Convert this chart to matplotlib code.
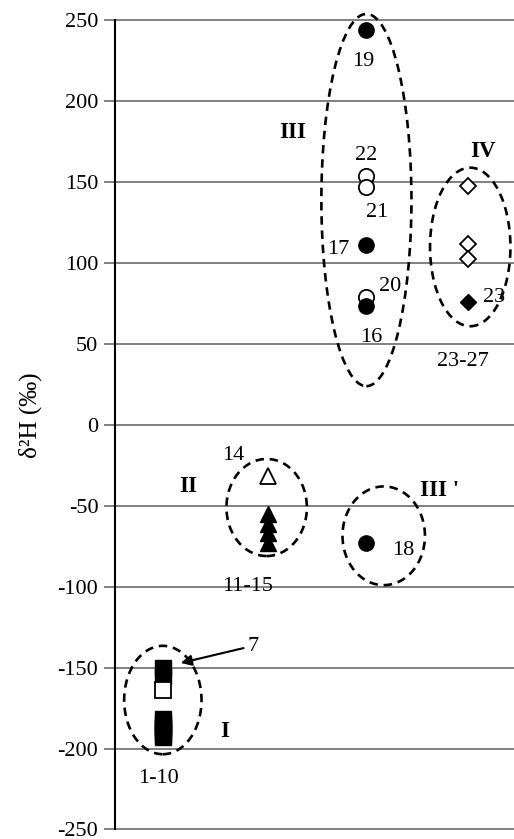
import matplotlib
matplotlib.use('Agg')
import matplotlib.pyplot as plt
from matplotlib.patches import Ellipse

plt.rcParams['font.family'] = ['Liberation Serif', 'DejaVu Serif']
plt.rcParams['axes.unicode_minus'] = False

# group I (samples 1-10)
grp1_x = 1
grp1_black = [-150, -155, -182, -184, -186, -187, -189, -191, -193]
grp1_white = [-163.5]

# group II (samples 11-15)
grp2_x = 2.03
grp2_black = [-55, -61, -67, -73]
grp2_white = [-31.5]

# group III / III' (samples 16-22)
grp3_x = 3
grp3_black = [244, 111, 73.6, -73]
grp3_white = [154, 147, 79]

# group IV (samples 23-27)
grp4_x = 4
grp4_white = [147.5, 112, 102.5]
grp4_black = [76]

# point labels: text, x, y
point_labels = [('19', 2.97, 224.7), ('22', 3.0, 166.7), ('21', 3.11, 131.5),
                ('17', 2.72, 108.6), ('20', 3.23, 85.8), ('16', 3.05, 54.3),
                ('23', 4.25, 79), ('23-27', 3.95, 39), ('14', 1.69, -19),
                ('11-15', 1.83, -100), ('18', 3.36, -77.8), ('7', 1.89, -137),
                ('1-10', 0.96, -218.5)]
group_labels = [('III', 2.28, 181), ('IV', 4.14, 169), ('II', 1.25, -38),
                ("III '", 3.72, -40.7), ('I', 1.61, -189.5)]

# ellipses: centre x, centre y, width, height
ellipses = [(3.0, 139, 0.885, 230), (4.02, 110, 0.79, 98), (2.02, -51, 0.79, 60),
            (3.17, -68.5, 0.81, 61), (1.0, -170, 0.76, 67)]

yticks = [250, 200, 150, 100, 50, 0, -50, -100, -150, -200, -250]

fig = plt.figure(figsize=(5.14, 8.39), dpi=100)
ax = fig.add_axes([115 / 514, 0.0075, 399 / 514, 0.9720])

ax.set_xlim(0.53, 4.45)
ax.set_ylim(-252, 252)
ax.set_yticks(yticks)
ax.set_xticks([])
ax.grid(axis='y', color='#808080', lw=1.4)
ax.set_axisbelow(True)
for s in ['top', 'right', 'bottom']:
    ax.spines[s].set_visible(False)
ax.spines['left'].set_bounds(-250, 250)
ax.spines['left'].set_linewidth(1.5)
ax.tick_params(axis='y', direction='out', length=8, width=1.4, color='#808080',
               labelsize=16, pad=4)

ms = 11
ax.plot([grp1_x] * len(grp1_black), grp1_black, 's', color='black', ms=12, ls='none')
ax.plot([grp1_x] * len(grp1_white), grp1_white, 's', mfc='white', mec='black', mew=1.3, ms=12, ls='none')

ax.plot([grp2_x] * len(grp2_black), grp2_black, '^', color='black', ms=ms, ls='none')
ax.plot([grp2_x] * len(grp2_white), grp2_white, '^', mfc='white', mec='black', mew=1.3, ms=ms, ls='none')

ax.plot([grp3_x] * len(grp3_white), grp3_white, 'o', mfc='white', mec='black', mew=1.3, ms=ms, ls='none')
ax.plot([grp3_x] * len(grp3_black), grp3_black, 'o', color='black', ms=ms, ls='none')

ax.plot([grp4_x] * len(grp4_white), grp4_white, 'D', mfc='white', mec='black', mew=1.3, ms=8.5, ls='none')
ax.plot([grp4_x] * len(grp4_black), grp4_black, 'D', color='black', ms=8.5, ls='none')

for cx, cy, w, h in ellipses:
    ax.add_patch(Ellipse((cx, cy), w, h, fill=False, ec='black', lw=1.9,
                         ls=(0, (3.2, 2.2)), clip_on=False))

for t, x, y in point_labels:
    ax.text(x, y, t, ha='center', va='center', fontsize=16)
for t, x, y in group_labels:
    ax.text(x, y, t, ha='center', va='center', fontsize=16.5, fontweight='bold')

ax.annotate('', xy=(1.15, -147.5), xytext=(1.82, -137.5),
            arrowprops=dict(arrowstyle='-|>', color='black', lw=1.5, mutation_scale=16))

fig.text(30 / 514, 1 - 415 / 839, 'δ²H (‰)', rotation=90, ha='center', va='center', fontsize=18)

fig.savefig('out.png', dpi=100)
